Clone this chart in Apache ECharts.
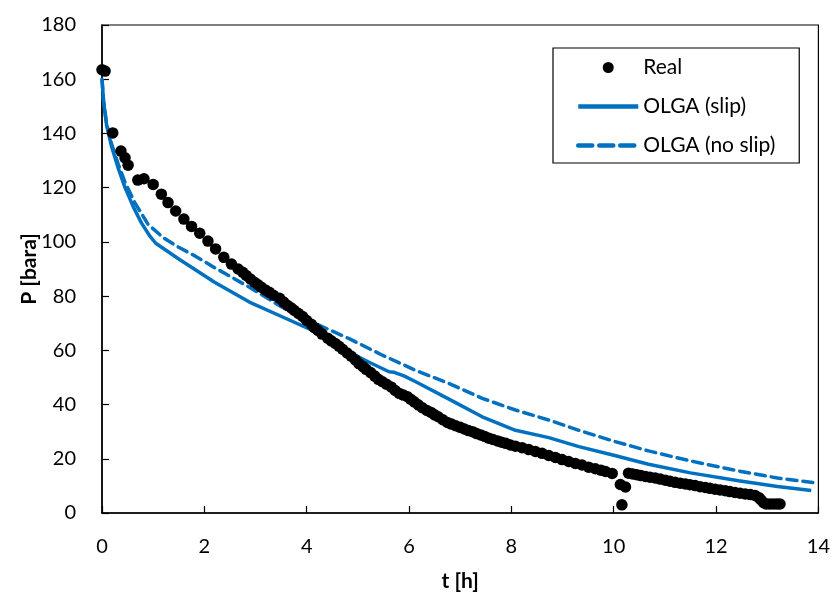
<!DOCTYPE html>
<html><head><meta charset="utf-8">
<script src="https://cdn.jsdelivr.net/npm/echarts@6/dist/echarts.min.js"></script>
<style>html,body{margin:0;padding:0;background:#fff}#c{width:833px;height:597px}</style>
</head><body><div id="c"></div>
<script>
// Real measurements
const realT = [0.00,0.06,0.21,0.37,0.45,0.51,0.70,0.82,1.00,1.16,1.29,1.44,1.60,1.75,1.91,2.07,2.22,2.38,2.53,2.66,2.75,2.82,2.90,2.98,3.05,3.11,3.19,3.27,3.35,3.47,3.55,3.63,3.70,3.76,3.84,3.92,4.00,4.09,4.15,4.22,4.30,4.41,4.48,4.56,4.63,4.70,4.79,4.87,4.95,5.02,5.10,5.16,5.25,5.33,5.40,5.48,5.56,5.65,5.73,5.81,5.89,5.97,6.03,6.10,6.18,6.26,6.35,6.43,6.50,6.57,6.66,6.75,6.83,6.91,7.00,7.08,7.16,7.24,7.32,7.40,7.48,7.56,7.64,7.73,7.81,7.89,7.98,8.08,8.21,8.34,8.47,8.60,8.73,8.86,8.99,9.12,9.25,9.38,9.51,9.64,9.75,9.84,9.97,10.13,10.23,10.16,10.29,10.37,10.45,10.53,10.62,10.71,10.81,10.91,11.01,11.10,11.20,11.30,11.40,11.49,11.59,11.69,11.79,11.88,11.98,12.08,12.18,12.27,12.37,12.47,12.57,12.67,12.76,12.84,12.88,12.93,12.98,13.05,13.12,13.19,13.25];
const realP = [163.5,163.0,140.2,133.5,131.0,128.3,122.8,123.3,121.2,117.6,114.5,111.4,108.4,105.7,103.2,100.3,97.4,94.3,91.8,90.0,88.8,87.6,86.3,85.1,84.2,83.3,82.3,81.4,80.3,79.2,77.8,76.5,75.6,74.7,73.6,72.5,71.0,69.6,68.4,67.3,66.0,64.5,63.5,62.5,61.5,60.4,59.0,57.8,56.5,55.1,54.0,53.0,51.8,50.5,49.3,48.4,47.5,46.5,45.2,44.1,43.5,42.9,42.0,41.0,39.9,38.8,37.8,37.1,36.2,35.5,34.4,33.4,32.8,32.2,31.6,31.0,30.4,30.0,29.3,28.8,28.2,27.6,27.1,26.6,26.1,25.7,25.1,24.6,24.1,23.4,22.7,22.0,21.2,20.5,19.7,19.0,18.3,17.7,16.9,16.3,15.8,15.3,14.6,10.5,9.6,3.0,14.7,14.4,14.1,13.8,13.5,13.2,12.9,12.5,12.1,11.7,11.3,11.0,10.7,10.4,10.1,9.7,9.4,9.1,8.8,8.5,8.2,7.9,7.6,7.3,7.0,6.8,6.5,5.6,4.8,3.8,3.3,3.3,3.3,3.3,3.3];
// OLGA (slip)
const slipT = [0,0.03,0.09,0.19,0.32,0.45,0.61,0.77,0.94,1.05,1.5,2.2,2.88,3.53,4.18,4.83,5.2,5.61,5.71,5.9,6.13,6.78,7.43,8.08,8.73,9.32,10.0,10.68,11.5,12.44,13.2,13.86];
const slipP = [160,152,143,135,127,120,113,107,102,99.5,93.7,85.1,77.8,72.3,66.8,59.4,55.8,52.1,51.9,50.6,48.4,42.0,35.5,30.5,27.8,24.5,21.3,18.0,14.8,11.9,9.8,8.3];
// OLGA (no slip)
const noslipT = [0,0.03,0.09,0.19,0.32,0.45,0.64,0.9,1.2,1.5,1.8,2.2,2.88,3.53,4.18,4.83,5.48,6.13,6.78,7.43,8.08,8.73,9.32,10.0,10.68,11.5,12.44,13.2,14.0];
const noslipP = [160,152,143.5,136,128.5,122,114.5,106.5,101.5,98,95,90.5,83.3,75.8,69.8,64.3,58.2,52.6,47.8,42.3,38.0,34.3,30.5,26.5,22.9,19.2,15.5,12.9,11.0];

const xTicks = [0,2,4,6,8,10,12,14];
const yTicks = [0,20,40,60,80,100,120,140,160,180];

const zip = (a,b)=>a.map((v,i)=>[v,b[i]]);
const FONT = 'Lato';
const BLUE = '#0070C0';
const hiddenSym = {color:'rgba(0,0,0,0)', opacity:0, borderWidth:0};
const chart = echarts.init(document.getElementById('c'), null, {renderer:'canvas'});
chart.setOption({
  backgroundColor:'#fff',
  animation:false,
  textStyle:{fontFamily:FONT},
  grid:{left:102, top:25, right:12, bottom:82, show:true, borderColor:'#000', borderWidth:1.2, containLabel:false},
  legend:{
    left:553, top:48, orient:'vertical',
    padding:[7,24,5,23],
    borderColor:'#000', borderWidth:1.2, backgroundColor:'#fff',
    itemWidth:60, itemHeight:11, itemGap:14,
    textStyle:{fontFamily:FONT, fontSize:21, color:'#000', lineHeight:25},
    data:[
      {name:'Real'},
      {name:'OLGA (slip)', itemStyle:hiddenSym, lineStyle:{width:4.5, color:BLUE}},
      {name:'OLGA (no slip)', itemStyle:hiddenSym, lineStyle:{width:4.5, color:BLUE, type:[14,7]}}
    ]
  },
  xAxis:{
    type:'value', min:xTicks[0], max:xTicks[xTicks.length-1], interval:2,
    name:'t [h]', nameLocation:'middle', nameGap:58, nameMoveOverlap:false,
    nameTextStyle:{fontFamily:FONT, fontSize:21, fontWeight:'bold', color:'#000'},
    axisLine:{show:true, lineStyle:{color:'#000', width:1.5}},
    axisTick:{show:true, inside:true, length:7, lineStyle:{color:'#000', width:1.2}},
    axisLabel:{color:'#000', fontSize:20, fontFamily:FONT, margin:24},
    splitLine:{show:false}
  },
  yAxis:{
    type:'value', min:yTicks[0], max:yTicks[yTicks.length-1], interval:20,
    name:'P [bara]', nameLocation:'middle', nameGap:62, nameRotate:90, nameMoveOverlap:false,
    nameTextStyle:{fontFamily:FONT, fontSize:21, fontWeight:'bold', color:'#000'},
    axisLine:{show:true, lineStyle:{color:'#000', width:1.5}},
    axisTick:{show:true, inside:true, length:7, lineStyle:{color:'#000', width:1.2}},
    axisLabel:{color:'#000', fontSize:20, fontFamily:FONT, margin:26},
    splitLine:{show:false}
  },
  series:[
    {name:'Real', type:'scatter', data:zip(realT,realP), symbol:'circle', symbolSize:11.5,
     itemStyle:{color:'#000', opacity:1}, z:3},
    {name:'OLGA (slip)', type:'line', data:zip(slipT,slipP), showSymbol:false, symbol:'none',
     lineStyle:{color:BLUE, width:3.5}, itemStyle:{color:BLUE}, z:2},
    {name:'OLGA (no slip)', type:'line', data:zip(noslipT,noslipP), showSymbol:false, symbol:'none',
     lineStyle:{color:BLUE, width:3.5, type:[10,6], cap:'round'}, itemStyle:{color:BLUE}, z:2}
  ]
});
</script></body></html>
